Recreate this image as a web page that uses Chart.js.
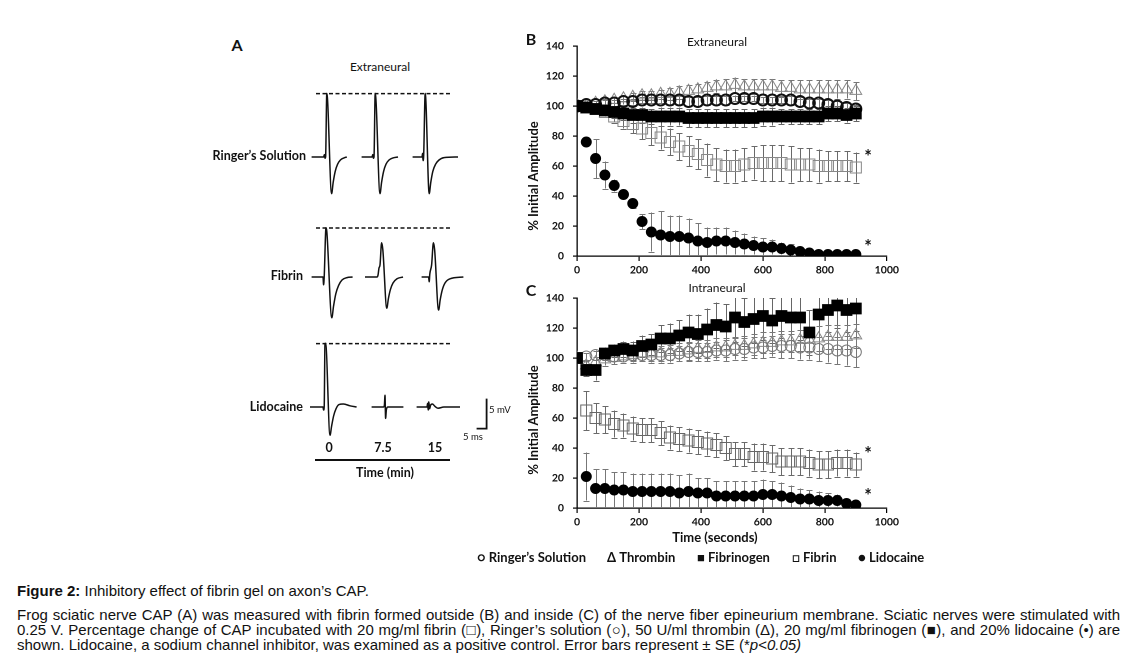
<!DOCTYPE html>
<html>
<head>
<meta charset="utf-8">
<script src="https://cdn.jsdelivr.net/npm/chart.js@4.4.1/dist/chart.umd.min.js"></script>
<style>
  html, body { margin:0; padding:0; background:#fff; }
  #root { position:relative; width:1129px; height:665px; overflow:hidden; background:#fff; }
  canvas { position:absolute; }
  .t { position:absolute; white-space:nowrap; line-height:1; color:#111; font-family:Lato, 'Open Sans', sans-serif; }
  .cap { position:absolute; left:17px; width:1103px; font-family:'Liberation Sans', Arial, sans-serif; font-size:15px; line-height:15px; color:#111; white-space:nowrap; }
  .just { text-align:justify; text-align-last:justify; }
</style>
</head>
<body>
<div id="root">
  <canvas id="rowA1" width="200" height="120" style="left:300px;top:85px;width:200px;height:120px"></canvas>
  <canvas id="rowA2" width="200" height="120" style="left:300px;top:205px;width:200px;height:120px"></canvas>
  <canvas id="rowA3" width="200" height="120" style="left:300px;top:335px;width:200px;height:120px"></canvas>
  <canvas id="chartB" width="382" height="248" style="left:520px;top:30px;width:382px;height:248px"></canvas>
  <canvas id="chartC" width="382" height="250" style="left:520px;top:280px;width:382px;height:250px"></canvas>

  <div class="cap" style="top:583px"><b>Figure 2:</b> Inhibitory effect of fibrin gel on axon’s CAP.</div>
  <div class="cap just" style="top:607px">Frog sciatic nerve CAP (A) was measured with fibrin formed outside (B) and inside (C) of the nerve fiber epineurium membrane. Sciatic nerves were stimulated with</div>
  <div class="cap just" style="top:622px">0.25 V. Percentage change of CAP incubated with 20 mg/ml fibrin (□), Ringer’s solution (○), 50 U/ml thrombin (Δ), 20 mg/ml fibrinogen (■), and 20% lidocaine (•) are</div>
  <div class="cap" style="top:637px">shown. Lidocaine, a sodium channel inhibitor, was examined as a positive control. Error bars represent ± SE (*<i>p&lt;0.05)</i></div>
</div>
<script>
// ---------------- DATA ----------------
const timeSec = [0,30,60,90,120,150,180,210,240,270,300,330,360,390,420,450,480,510,540,570,600,630,660,690,720,750,780,810,840,870,900];
const seriesNames = ["Ringer’s Solution","Thrombin","Fibrinogen","Fibrin","Lidocaine"];
const xTicks = [0,200,400,600,800,1000];
const yTicks = [0,20,40,60,80,100,120,140];

// Panel B (extraneural), % initial amplitude and SE
const ringerB      = [100,101,101,102,102,103,103,104,104,104,104,104,103,103,104,104,104,105,105,105,104,104,104,104,103,102,102,101,100,99,98];
const ringerErrB   = [0,1,1,2,2,2,2,2,2,2,3,3,3,3,3,3,3,2,2,2,2,2,2,3,3,3,3,3,3,3,3];
const thrombinB    = [100,100,102,103,104,105,106,107,107,108,108,109,110,111,112,113,113,114,113,113,113,113,112,112,111,111,111,111,111,111,110];
const thrombinErrB = [0,1,1,2,2,2,3,3,3,3,4,4,4,4,4,4,5,5,5,5,5,5,5,5,6,6,6,6,6,6,6];
const fibrinogenB  = [100,99,98,97,96,95,94,94,93,93,93,93,92,92,92,92,92,92,92,92,93,93,93,93,93,93,93,95,95,94,95];
const fibrinogenErrB = [0,2,3,3,4,4,5,5,5,6,6,6,6,6,6,6,6,6,6,6,6,6,5,5,5,5,5,5,5,5,5];
const fibrinB      = [100,99,98,96,93,90,88,85,82,79,76,73,70,68,64,61,60,60,61,62,62,62,62,61,61,61,60,60,60,60,59];
const fibrinErrB   = [0,1,2,3,4,5,6,7,8,8,9,9,10,10,11,11,11,11,11,11,12,12,12,12,11,11,11,10,10,10,10];
const lidoB        = [100,76,65,54,47,41,35,23,16,14,13,13,12,10,9,10,10,9,8,7,6,6,5,4,3,2,1,1,1,1,1];
const lidoErrB     = [0,2,13,9,4,2,3,5,13,16,14,14,13,12,10,9,9,8,7,6,6,5,4,4,3,2,1,1,1,1,1];

// Panel C (intraneural)
const ringerC      = [100,101,102,102,101,101,102,102,102,102,102,103,104,104,104,105,105,106,106,107,107,108,108,108,107,107,106,106,105,105,104];
const ringerErrC   = [0,2,3,3,3,4,4,4,5,5,5,5,6,6,6,6,7,7,7,7,7,7,8,8,8,8,8,9,9,10,10];
const thrombinC    = [100,95,97,99,100,101,102,103,103,103,104,104,105,106,106,107,107,108,108,109,110,110,111,111,112,112,113,114,114,114,115];
const thrombinErrC = [0,4,4,4,4,4,5,5,5,5,5,6,6,6,6,6,6,6,7,7,7,7,7,7,7,7,8,8,8,8,8];
const fibrinogenC  = [100,92,92,103,105,106,105,108,109,113,113,115,117,116,119,122,121,127,124,126,128,125,128,127,127,117,129,132,135,132,133];
const fibrinogenErrC = [0,4,7,4,4,5,6,7,7,9,10,10,12,13,14,15,15,16,16,16,16,15,15,15,15,15,15,15,15,15,15];
const fibrinC      = [100,65,60,59,56,55,53,52,52,50,47,46,45,44,43,42,40,36,36,34,34,33,31,31,31,30,29,29,30,30,29];
const fibrinErrC   = [0,13,10,9,9,8,8,8,8,8,8,8,8,8,8,8,8,8,8,9,9,9,9,9,9,9,9,9,9,9,8];
const lidoC        = [100,21,13,13,12,12,11,11,11,11,11,10,11,10,10,8,8,8,8,8,9,9,8,7,6,6,5,5,5,3,2];
const lidoErrC     = [0,16,13,13,12,12,12,12,12,12,12,12,12,10,10,10,10,10,10,10,10,9,9,8,7,6,6,5,4,3,1];

// Panel A traces: [time (ms), voltage (mV)] — three sweeps per condition (0, 7.5, 15 min)
const ringerSweep0  = [[5.8,0],[11.8,0],[12.2,0.4],[12.5,-0.2],[12.8,0],[13.4,10.6],[15.8,-6.1],[16.6,-4.2],[17.6,-2.4],[18.8,-1.2],[20.2,-0.5],[22,-0.15],[23.4,0]];
const ringerSweep75 = [[30.8,0],[36,0],[36.4,0.4],[36.7,-0.2],[37,0],[37.6,10.6],[40,-6.1],[40.8,-4.2],[41.8,-2.4],[43,-1.2],[44.5,-0.5],[46.5,-0.15],[49,0]];
const ringerSweep15 = [[56.3,0],[61,0],[61.3,0.6],[61.5,-0.6],[61.8,0],[62.6,10.6],[64.6,-6.1],[65.4,-4.2],[66.4,-2.4],[67.8,-1.2],[69.5,-0.5],[72,-0.1],[79,0]];
const fibrinSweep0  = [[5.8,0],[11.5,0],[11.8,-1.3],[12.1,0],[13,8.2],[13.4,7.6],[15.9,-6.8],[16.8,-4.8],[17.9,-2.8],[19.3,-1.4],[21,-0.5],[23.5,-0.1],[26.3,0]];
const fibrinSweep75 = [[32.5,0],[38.5,0],[39,0.3],[39.5,1.5],[40,2],[40.8,5.7],[41.4,4.6],[43.4,-5.2],[44.2,-3.6],[45.2,-2.1],[46.5,-1],[48.5,-0.3],[51.5,0]];
const fibrinSweep15 = [[60.8,0],[64.3,0],[64.6,-0.8],[64.9,0.5],[65.8,2],[66.7,5.7],[67.3,4.6],[69.3,-5.5],[70.1,-3.8],[71.1,-2.2],[72.5,-1],[75,-0.3],[81.7,0]];
const lidoSweep0    = [[5,0],[11.5,0],[11.8,-0.5],[12.1,0],[12.5,10.6],[12.8,10.6],[15,-4.7],[15.8,-3.2],[16.8,-1.5],[18,-0.3],[19.5,0.4],[21.7,0.5],[25,0.2],[28.3,0]];
const lidoSweep75   = [[35.8,0],[41.8,0],[42.2,0.3],[42.5,1.95],[42.8,-1.9],[43.2,-0.4],[44,0],[51.7,0]];
const lidoSweep15   = [[58.3,0],[63.5,0],[63.8,0.6],[64.1,-0.5],[64.4,0.85],[64.8,-0.3],[65.3,0.3],[66.2,0.5],[67.5,0.1],[69,-0.2],[72,0],[80,0]];
const ringerRef     = [[8,10.57],[75.8,10.57]];   // initial amplitude reference
const fibrinRef     = [[8,8.17],[75.8,8.17]];
const lidoRef       = [[8,10.57],[75.8,10.57]];
const scaleBar      = [[88.3,-3.6],[93.3,-3.6],[93.3,1.4]]; // 5 ms x 5 mV

// ---------------- HELPERS ----------------
const root = document.getElementById('root');
function txt(s, x, y, o) {
  o = o || {};
  const d = document.createElement('div');
  d.className = 't';
  d.textContent = s;
  d.style.left = x + 'px';
  d.style.top = y + 'px';
  d.style.fontSize = (o.size || 12) + 'px';
  d.style.fontWeight = o.weight || 'normal';
  if (o.family) d.style.fontFamily = o.family;
  let tr = 'translate(-50%,-50%)';
  if (o.align === 'right') tr = 'translate(-100%,-50%)';
  if (o.align === 'left') tr = 'translate(0,-50%)';
  if (o.rotate) tr = 'translate(-50%,-50%) rotate(-90deg)';
  d.style.transform = tr;
  root.appendChild(d);
  return d;
}

const errorBarPlugin = {
  id: 'errorBars',
  beforeDatasetsDraw(chart) {
    const ctx = chart.ctx, ys = chart.scales.y, a = chart.chartArea;
    ctx.save();
    ctx.beginPath(); ctx.rect(a.left, a.top, a.right - a.left, a.bottom - a.top); ctx.clip();
    chart.data.datasets.forEach((ds, i) => {
      if (!ds.errors) return;
      const meta = chart.getDatasetMeta(i);
      ctx.strokeStyle = ds.errorColor || '#777';
      ctx.lineWidth = 1;
      meta.data.forEach((pt, j) => {
        const e = ds.errors[j];
        if (!e) return;
        const v = ds.data[j].y;
        const y1 = ys.getPixelForValue(v + e), y2 = ys.getPixelForValue(v - e);
        const x = Math.round(pt.x) + 0.5;
        ctx.beginPath();
        ctx.moveTo(x, y1); ctx.lineTo(x, y2);
        ctx.moveTo(x - 3, Math.round(y1) + 0.5); ctx.lineTo(x + 3, Math.round(y1) + 0.5);
        ctx.moveTo(x - 3, Math.round(y2) + 0.5); ctx.lineTo(x + 3, Math.round(y2) + 0.5);
        ctx.stroke();
      });
    });
    ctx.restore();
  }
};

function pts(vals) { return vals.map((v, i) => ({x: timeSec[i], y: v})); }

function makePanel(id, d, topPad, openCircleColor, openCircleWidth, fibrinColor) {
  const datasets = [
    {label: seriesNames[2], data: pts(d.fibrinogen), errors: d.fibrinogenErr, pointStyle: 'rect', pointRadius: 7.6, backgroundColor: '#000', borderColor: '#000', borderWidth: 1, errorColor: '#666'},
    {label: seriesNames[4], data: pts(d.lido), errors: d.lidoErr, pointStyle: 'circle', pointRadius: 5, backgroundColor: '#000', borderColor: '#000', borderWidth: 1, errorColor: '#777'},
    {label: seriesNames[0], data: pts(d.ringer), errors: d.ringerErr, pointStyle: 'circle', pointRadius: 5.5, backgroundColor: 'rgba(255,255,255,0)', borderColor: openCircleColor, borderWidth: openCircleWidth, errorColor: '#777'},
    {label: seriesNames[1], data: pts(d.thrombin), errors: d.thrombinErr, pointStyle: 'triangle', pointRadius: 6.8, backgroundColor: 'rgba(255,255,255,0)', borderColor: '#888', borderWidth: 1, errorColor: '#777'},
    {label: seriesNames[3], data: pts(d.fibrin), errors: d.fibrinErr, pointStyle: 'rect', pointRadius: 7.8, backgroundColor: 'rgba(255,255,255,0)', borderColor: fibrinColor, borderWidth: 1, errorColor: '#6a6a6a'}
  ];
  datasets.forEach(ds => { ds.pointHoverRadius = ds.pointRadius; ds.showLine = false; });
  const tickFont = {family: 'Lato', size: 10.5, weight: 'bold'};
  return new Chart(document.getElementById(id), {
    type: 'scatter',
    data: {datasets},
    plugins: [errorBarPlugin],
    options: {
      responsive: false, animation: false, devicePixelRatio: 2,
      layout: {padding: {top: topPad, right: 14, left: 0, bottom: 0}},
      plugins: {legend: {display: false}, tooltip: {enabled: false}, title: {display: false}},
      scales: {
        x: {
          type: 'linear', min: 0, max: 1000,
          afterBuildTicks: s => { s.ticks = xTicks.map(v => ({value: v})); },
          afterFit: s => { s.height = 22; },
          ticks: {font: tickFont, color: '#111', padding: 3, maxRotation: 0, callback: v => String(v)},
          grid: {display: true, drawOnChartArea: false, drawTicks: true, tickLength: 5, color: '#000', lineWidth: 1.2},
          border: {display: true, color: '#000', width: 1.3}
        },
        y: {
          type: 'linear', min: 0, max: 140,
          afterBuildTicks: s => { s.ticks = yTicks.map(v => ({value: v})); },
          afterFit: s => { s.width = 57; },
          ticks: {font: tickFont, color: '#111', padding: 9, callback: v => String(v)},
          grid: {display: true, drawOnChartArea: false, drawTicks: true, tickLength: 4, color: '#000', lineWidth: 1.2},
          border: {display: true, color: '#000', width: 1.3}
        }
      }
    }
  });
}

makePanel('chartB', {ringer: ringerB, ringerErr: ringerErrB, thrombin: thrombinB, thrombinErr: thrombinErrB,
  fibrinogen: fibrinogenB, fibrinogenErr: fibrinogenErrB, fibrin: fibrinB, fibrinErr: fibrinErrB, lido: lidoB, lidoErr: lidoErrB},
  16, '#111', 2, '#888');
makePanel('chartC', {ringer: ringerC, ringerErr: ringerErrC, thrombin: thrombinC, thrombinErr: thrombinErrC,
  fibrinogen: fibrinogenC, fibrinogenErr: fibrinogenErrC, fibrin: fibrinC, fibrinErr: fibrinErrC, lido: lidoC, lidoErr: lidoErrC},
  18, '#777', 1, '#666');

function makeTraces(id, sweeps, ref, extra) {
  const datasets = sweeps.map(s => ({data: s.map(p => ({x: p[0], y: p[1]})), borderColor: '#111', borderWidth: 1.5,
    showLine: true, pointRadius: 0, cubicInterpolationMode: 'monotone'}));
  datasets.push({data: ref.map(p => ({x: p[0], y: p[1]})), borderColor: '#111', borderWidth: 1.5, borderDash: [4, 2.5], showLine: true, pointRadius: 0});
  if (extra) datasets.push({data: extra.map(p => ({x: p[0], y: p[1]})), borderColor: '#111', borderWidth: 1.8, showLine: true, pointRadius: 0});
  return new Chart(document.getElementById(id), {
    type: 'scatter',
    data: {datasets},
    options: {
      responsive: false, animation: false, devicePixelRatio: 2,
      layout: {padding: 0},
      plugins: {legend: {display: false}, tooltip: {enabled: false}},
      scales: {
        x: {type: 'linear', min: 0, max: 100, display: false},
        y: {type: 'linear', min: -8, max: 12, display: false}
      }
    }
  });
}
makeTraces('rowA1', [ringerSweep0, ringerSweep75, ringerSweep15], ringerRef);
makeTraces('rowA2', [fibrinSweep0, fibrinSweep75, fibrinSweep15], fibrinRef);
makeTraces('rowA3', [lidoSweep0, lidoSweep75, lidoSweep15], lidoRef, scaleBar);

// ---------------- TEXT ----------------
txt('A', 237, 45, {size: 16, weight: 'bold'});
txt('Extraneural', 380, 67, {size: 12});
txt('Ringer’s Solution', 306, 156, {size: 12.5, weight: 'bold', align: 'right'});
txt('Fibrin', 303, 276, {size: 12.5, weight: 'bold', align: 'right'});
txt('Lidocaine', 303, 407, {size: 12.5, weight: 'bold', align: 'right'});
txt('5 mV', 489, 410, {size: 9.5, align: 'left'});
txt('5 ms', 473, 437, {size: 9.5});
txt('0', 329, 448, {size: 12.5, weight: 'bold'});
txt('7.5', 383, 448, {size: 12.5, weight: 'bold'});
txt('15', 435, 448, {size: 12.5, weight: 'bold'});
const rule = document.createElement('div');
rule.style.cssText = 'position:absolute;left:315px;top:459px;width:135px;height:2px;background:#111';
root.appendChild(rule);
txt('Time (min)', 385, 473, {size: 12.5, weight: 'bold'});

txt('B', 531, 39, {size: 16, weight: 'bold'});
txt('C', 531, 290, {size: 16, weight: 'bold'});
txt('Extraneural', 717, 42, {size: 12});
txt('Intraneural', 717, 288, {size: 12});
txt('% Initial Amplitude', 533, 176, {size: 13, weight: 'bold', rotate: true});
txt('% Initial Amplitude', 533, 420, {size: 13, weight: 'bold', rotate: true});
txt('Time (seconds)', 715, 537, {size: 13, weight: 'bold'});
txt('*', 868, 156, {size: 18, weight: 'bold'});
txt('*', 868, 246, {size: 18, weight: 'bold'});
txt('*', 868, 453, {size: 18, weight: 'bold'});
txt('*', 868, 495, {size: 18, weight: 'bold'});

txt('○ ' + seriesNames[0], 477, 557, {size: 13, weight: 'bold', align: 'left'});
txt('Δ ' + seriesNames[1], 607, 557, {size: 13, weight: 'bold', align: 'left'});
txt('■ ' + seriesNames[2], 697, 557, {size: 13, weight: 'bold', align: 'left'});
txt('□ ' + seriesNames[3], 792, 557, {size: 13, weight: 'bold', align: 'left'});
txt('● ' + seriesNames[4], 858, 557, {size: 13, weight: 'bold', align: 'left'});
</script>
</body>
</html>
